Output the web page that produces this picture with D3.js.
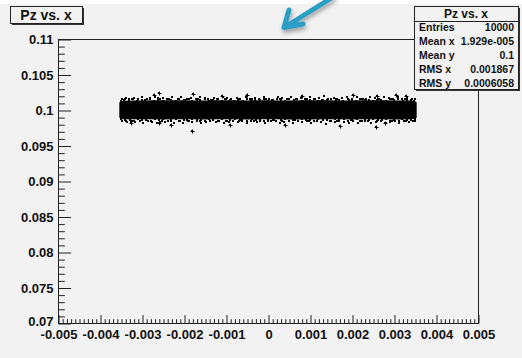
<!DOCTYPE html>
<html>
<head>
<meta charset="utf-8">
<script src="https://cdn.jsdelivr.net/npm/d3@7"></script>
<style>
  html, body { margin: 0; padding: 0; background: #ffffff; }
  svg { display: block; }
  text { font-family: "Liberation Sans", Arial, Helvetica, sans-serif; font-weight: bold; fill: #111; }
</style>
</head>
<body>
<svg id="chart" width="522" height="358"></svg>
<script>
// ---- axis ticks and labels ----
const xTickValues = [-0.005, -0.004, -0.003, -0.002, -0.001, 0, 0.001, 0.002, 0.003, 0.004, 0.005];
const xTickLabels = ["-0.005", "-0.004", "-0.003", "-0.002", "-0.001", "0", "0.001", "0.002", "0.003", "0.004", "0.005"];
const yTickValues = [0.07, 0.075, 0.08, 0.085, 0.09, 0.095, 0.1, 0.105, 0.11];
const yTickLabels = ["0.07", "0.075", "0.08", "0.085", "0.09", "0.095", "0.1", "0.105", "0.11"];

// ---- statistics box ----
const statTitle = "Pz vs. x";
const statNames = ["Entries", "Mean x", "Mean y", "RMS x", "RMS y"];
const statValues = ["10000", "1.929e-005", "0.1", "0.001867", "0.0006058"];

// ---- dense core of the Pz vs. x scatter (upper / lower envelope) ----
const coreX      = [-0.00354, -0.00350, -0.00340, -0.00300, -0.00250, -0.00200, -0.00150, -0.00100, -0.00050, 0.00000, 0.00050, 0.00100, 0.00150, 0.00200, 0.00250, 0.00300, 0.00340, 0.00350, 0.00354];
const coreTop    = [0.10105, 0.10122, 0.10132, 0.10135, 0.10136, 0.10138, 0.10134, 0.10137, 0.10135, 0.10138, 0.10134, 0.10136, 0.10138, 0.10134, 0.10137, 0.10135, 0.10133, 0.10125, 0.10106];
const coreBottom = [0.09895, 0.09878, 0.09870, 0.09868, 0.09866, 0.09868, 0.09867, 0.09869, 0.09866, 0.09868, 0.09867, 0.09866, 0.09868, 0.09867, 0.09868, 0.09866, 0.09870, 0.09876, 0.09894];

// ---- points just above the core ----
const upperInner = [
  [-0.00350, 0.10131], [-0.00341, 0.10152], [-0.00330, 0.10138], [-0.00322, 0.10160], [-0.00311, 0.10129],
  [-0.00299, 0.10147], [-0.00292, 0.10135], [-0.00280, 0.10156], [-0.00271, 0.10128], [-0.00262, 0.10144],
  [-0.00250, 0.10133], [-0.00241, 0.10158], [-0.00230, 0.10139], [-0.00219, 0.10127], [-0.00211, 0.10151],
  [-0.00200, 0.10136], [-0.00189, 0.10161], [-0.00180, 0.10130], [-0.00170, 0.10146], [-0.00161, 0.10134],
  [-0.00149, 0.10155], [-0.00140, 0.10128], [-0.00131, 0.10142], [-0.00120, 0.10150], [-0.00109, 0.10132],
  [-0.00100, 0.10159], [-0.00091, 0.10137], [-0.00080, 0.10127], [-0.00069, 0.10148], [-0.00060, 0.10133],
  [-0.00049, 0.10157], [-0.00040, 0.10130], [-0.00030, 0.10145], [-0.00019, 0.10136], [-0.00010, 0.10153],
  [0.00001, 0.10129], [0.00010, 0.10141], [0.00021, 0.10158], [0.00030, 0.10134], [0.00041, 0.10127],
  [0.00050, 0.10149], [0.00061, 0.10138], [0.00070, 0.10160], [0.00081, 0.10131], [0.00090, 0.10144],
  [0.00101, 0.10135], [0.00110, 0.10154], [0.00119, 0.10128], [0.00130, 0.10147], [0.00141, 0.10137],
  [0.00150, 0.10159], [0.00161, 0.10132], [0.00170, 0.10143], [0.00179, 0.10129], [0.00190, 0.10152],
  [0.00201, 0.10139], [0.00210, 0.10127], [0.00221, 0.10156], [0.00230, 0.10134], [0.00241, 0.10146],
  [0.00250, 0.10131], [0.00261, 0.10159], [0.00270, 0.10137], [0.00281, 0.10128], [0.00290, 0.10150],
  [0.00301, 0.10135], [0.00310, 0.10157], [0.00321, 0.10130], [0.00330, 0.10144], [0.00340, 0.10136],
  [0.00348, 0.10127]
];

// ---- points along the upper fringe of the band ----
const upperOuter = [
  [-0.00348, 0.10152], [-0.00339, 0.10168], [-0.00331, 0.10149], [-0.00320, 0.10175], [-0.00309, 0.10158],
  [-0.00301, 0.10183], [-0.00289, 0.10151], [-0.00280, 0.10166], [-0.00268, 0.10190], [-0.00257, 0.10155],
  [-0.00249, 0.10172], [-0.00236, 0.10148], [-0.00228, 0.10179], [-0.00215, 0.10160], [-0.00206, 0.10187],
  [-0.00193, 0.10153], [-0.00184, 0.10170], [-0.00172, 0.10149], [-0.00163, 0.10181], [-0.00151, 0.10162],
  [-0.00142, 0.10150], [-0.00129, 0.10176], [-0.00121, 0.10158], [-0.00108, 0.10185], [-0.00097, 0.10167],
  [-0.00088, 0.10151], [-0.00075, 0.10173], [-0.00066, 0.10157], [-0.00053, 0.10188], [-0.00044, 0.10149],
  [-0.00031, 0.10169], [-0.00022, 0.10154], [-0.00010, 0.10180], [0.00002, 0.10160], [0.00011, 0.10147],
  [0.00024, 0.10177], [0.00033, 0.10163], [0.00046, 0.10152], [0.00055, 0.10186], [0.00067, 0.10159],
  [0.00078, 0.10171], [0.00089, 0.10148], [0.00099, 0.10183], [0.00112, 0.10156], [0.00121, 0.10166],
  [0.00134, 0.10191], [0.00143, 0.10150], [0.00156, 0.10174], [0.00165, 0.10158], [0.00177, 0.10169],
  [0.00188, 0.10185], [0.00199, 0.10153], [0.00211, 0.10178], [0.00220, 0.10161], [0.00233, 0.10149],
  [0.00242, 0.10182], [0.00254, 0.10166], [0.00265, 0.10155], [0.00276, 0.10188], [0.00287, 0.10171],
  [0.00298, 0.10152], [0.00309, 0.10179], [0.00320, 0.10160], [0.00331, 0.10174], [0.00342, 0.10157],
  [0.00349, 0.10148],
  [-0.00343, 0.10146], [-0.00325, 0.10161], [-0.00294, 0.10147], [-0.00262, 0.10163], [-0.00241, 0.10158],
  [-0.00198, 0.10146], [-0.00167, 0.10160], [-0.00135, 0.10147], [-0.00102, 0.10156], [-0.00071, 0.10146],
  [-0.00037, 0.10159], [-0.00004, 0.10148], [0.00029, 0.10155], [0.00061, 0.10146], [0.00094, 0.10158],
  [0.00128, 0.10147], [0.00161, 0.10157], [0.00193, 0.10146], [0.00226, 0.10155], [0.00259, 0.10147],
  [0.00292, 0.10160], [0.00325, 0.10148]
];

// ---- points just below the core ----
const lowerInner = [
  [-0.00349, 0.09869], [-0.00339, 0.09846], [-0.00329, 0.09862], [-0.00320, 0.09840], [-0.00309, 0.09871],
  [-0.00300, 0.09853], [-0.00290, 0.09865], [-0.00279, 0.09844], [-0.00270, 0.09872], [-0.00260, 0.09856],
  [-0.00251, 0.09867], [-0.00239, 0.09842], [-0.00230, 0.09861], [-0.00220, 0.09873], [-0.00209, 0.09849],
  [-0.00200, 0.09864], [-0.00190, 0.09839], [-0.00181, 0.09870], [-0.00169, 0.09854], [-0.00160, 0.09866],
  [-0.00150, 0.09845], [-0.00141, 0.09872], [-0.00130, 0.09858], [-0.00119, 0.09850], [-0.00110, 0.09868],
  [-0.00101, 0.09841], [-0.00090, 0.09863], [-0.00079, 0.09873], [-0.00070, 0.09852], [-0.00061, 0.09867],
  [-0.00050, 0.09843], [-0.00039, 0.09870], [-0.00029, 0.09855], [-0.00020, 0.09864], [-0.00009, 0.09847],
  [0.00000, 0.09871], [0.00011, 0.09859], [0.00020, 0.09842], [0.00031, 0.09866], [0.00040, 0.09873],
  [0.00051, 0.09851], [0.00060, 0.09862], [0.00071, 0.09840], [0.00080, 0.09869], [0.00091, 0.09856],
  [0.00100, 0.09865], [0.00109, 0.09846], [0.00120, 0.09872], [0.00131, 0.09853], [0.00140, 0.09863],
  [0.00151, 0.09841], [0.00160, 0.09868], [0.00169, 0.09857], [0.00180, 0.09871], [0.00191, 0.09848],
  [0.00200, 0.09861], [0.00211, 0.09873], [0.00220, 0.09844], [0.00231, 0.09866], [0.00240, 0.09854],
  [0.00251, 0.09869], [0.00260, 0.09841], [0.00271, 0.09863], [0.00280, 0.09872], [0.00291, 0.09850],
  [0.00300, 0.09865], [0.00311, 0.09843], [0.00320, 0.09870], [0.00331, 0.09856], [0.00341, 0.09864],
  [0.00349, 0.09873]
];

// ---- points along the lower fringe of the band ----
const lowerOuter = [
  [-0.00347, 0.09849], [-0.00336, 0.09832], [-0.00327, 0.09851], [-0.00316, 0.09825], [-0.00305, 0.09842],
  [-0.00297, 0.09817], [-0.00285, 0.09848], [-0.00276, 0.09834], [-0.00264, 0.09812], [-0.00253, 0.09845],
  [-0.00245, 0.09828], [-0.00232, 0.09852], [-0.00224, 0.09821], [-0.00211, 0.09840], [-0.00202, 0.09814],
  [-0.00189, 0.09847], [-0.00180, 0.09830], [-0.00168, 0.09851], [-0.00159, 0.09819], [-0.00147, 0.09838],
  [-0.00138, 0.09850], [-0.00125, 0.09824], [-0.00117, 0.09842], [-0.00104, 0.09815], [-0.00093, 0.09833],
  [-0.00084, 0.09849], [-0.00071, 0.09827], [-0.00062, 0.09843], [-0.00049, 0.09812], [-0.00040, 0.09851],
  [-0.00027, 0.09831], [-0.00018, 0.09846], [-0.00006, 0.09820], [0.00006, 0.09840], [0.00015, 0.09853],
  [0.00028, 0.09823], [0.00037, 0.09837], [0.00050, 0.09848], [0.00059, 0.09814], [0.00071, 0.09841],
  [0.00082, 0.09829], [0.00093, 0.09852], [0.00103, 0.09817], [0.00116, 0.09844], [0.00125, 0.09834],
  [0.00138, 0.09809], [0.00147, 0.09850], [0.00160, 0.09826], [0.00169, 0.09842], [0.00181, 0.09831],
  [0.00192, 0.09815], [0.00203, 0.09847], [0.00215, 0.09822], [0.00224, 0.09839], [0.00237, 0.09851],
  [0.00246, 0.09818], [0.00258, 0.09834], [0.00269, 0.09845], [0.00280, 0.09812], [0.00291, 0.09829],
  [0.00302, 0.09848], [0.00313, 0.09821], [0.00324, 0.09840], [0.00335, 0.09826], [0.00345, 0.09843],
  [0.00350, 0.09852],
  [-0.00341, 0.09854], [-0.00321, 0.09839], [-0.00290, 0.09853], [-0.00258, 0.09837], [-0.00237, 0.09842],
  [-0.00194, 0.09854], [-0.00163, 0.09840], [-0.00131, 0.09853], [-0.00098, 0.09844], [-0.00067, 0.09854],
  [-0.00033, 0.09841], [0.00000, 0.09852], [0.00033, 0.09845], [0.00065, 0.09854], [0.00098, 0.09842],
  [0.00132, 0.09853], [0.00165, 0.09843], [0.00197, 0.09854], [0.00230, 0.09845], [0.00263, 0.09853],
  [0.00296, 0.09840], [0.00329, 0.09852]
];

// ---- isolated points farther from the band ----
const strayPoints = [
  [-0.00260, 0.10239], [-0.00271, 0.10211], [-0.00179, 0.10225], [-0.00110, 0.10197], [0.00202, 0.10211],
  [0.00260, 0.10197], [0.00305, 0.10211], [0.00329, 0.10197], [-0.00050, 0.10205], [0.00080, 0.10203],
  [-0.00326, 0.09817], [-0.00260, 0.09817], [-0.00181, 0.09704], [0.00257, 0.09761], [0.00171, 0.09775],
  [0.00279, 0.09817], [-0.00090, 0.09790], [0.00040, 0.09795], [-0.00230, 0.09788]
];

// ---- layout ----
const svg = d3.select("#chart");
const W = 522, H = 358;
const frame = { left: 58, right: 478, top: 39, bottom: 323 };

const x = d3.scaleLinear().domain([-0.005, 0.005]).range([frame.left, frame.right]);
const y = d3.scaleLinear().domain([0.07, 0.11]).range([frame.bottom, frame.top]);

const defs = svg.append("defs");
const shadow = defs.append("filter").attr("id", "soft").attr("x", "-50%").attr("y", "-50%").attr("width", "200%").attr("height", "200%");
shadow.append("feDropShadow").attr("dx", 1).attr("dy", 3).attr("stdDeviation", 2).attr("flood-color", "#000").attr("flood-opacity", 0.35);

// canvas background
svg.append("rect").attr("x", 0).attr("y", 0).attr("width", W).attr("height", H).attr("fill", "#ffffff");
svg.append("rect").attr("x", 0).attr("y", 4).attr("width", W).attr("height", H - 4).attr("fill", "#f2f2f2");

// ---- scatter ----
const plot = svg.append("g");

const coreData = coreX.map((v, i) => ({ x: v, t: coreTop[i], b: coreBottom[i] }));
plot.append("path")
  .datum(coreData)
  .attr("fill", "#000")
  .attr("d", d3.area().x(d => x(d.x)).y0(d => y(d.b)).y1(d => y(d.t)).curve(d3.curveMonotoneX));

const dots = upperInner.concat(upperOuter, lowerInner, lowerOuter, strayPoints);
plot.selectAll("rect.pt")
  .data(dots)
  .join("rect")
  .attr("class", "pt")
  .attr("x", d => Math.round(x(d[0])) - 1)
  .attr("y", d => Math.round(y(d[1])) - 1)
  .attr("width", 2)
  .attr("height", 2)
  .attr("fill", "#000");

// small crosses on the stray points
plot.selectAll("path.cross")
  .data(strayPoints)
  .join("path")
  .attr("class", "cross")
  .attr("d", d => {
    const cx = Math.round(x(d[0])) + 0.5, cy = Math.round(y(d[1])) + 0.5;
    return `M${cx - 2},${cy}H${cx + 2}M${cx},${cy - 2}V${cy + 2}`;
  })
  .attr("stroke", "#000")
  .attr("stroke-width", 1);

// ---- frame ----
svg.append("rect")
  .attr("x", frame.left + 0.5).attr("y", frame.top + 0.5)
  .attr("width", frame.right - frame.left).attr("height", frame.bottom - frame.top)
  .attr("fill", "none").attr("stroke", "#222").attr("stroke-width", 1);

// ---- axes (ticks point into the frame) ----
const xMinor = d3.range(-50, 51).map(k => k / 10000).filter(v => Math.abs(Math.round(v * 1000) - v * 1000) > 1e-6);
const yMinor = d3.range(70, 111).map(k => k / 1000).filter(v => Math.abs(Math.round(v * 200) - v * 200) > 1e-6);

const xAxis = d3.axisBottom(x).tickValues(xTickValues).tickFormat((d, i) => xTickLabels[i]).tickSizeInner(-8.5).tickSizeOuter(0).tickPadding(4);
const xAxisMinor = d3.axisBottom(x).tickValues(xMinor).tickFormat("").tickSizeInner(-4.3).tickSizeOuter(0);
const yAxis = d3.axisLeft(y).tickValues(yTickValues).tickFormat((d, i) => yTickLabels[i]).tickSizeInner(-12.6).tickSizeOuter(0).tickPadding(5);
const yAxisMinor = d3.axisLeft(y).tickValues(yMinor).tickFormat("").tickSizeInner(-6.3).tickSizeOuter(0);

function styleAxis(g) {
  g.select(".domain").remove();
  g.selectAll(".tick line").attr("stroke", "#222").attr("stroke-width", 1);
  g.selectAll(".tick text").attr("fill", "#111").attr("font-size", 13)
    .attr("font-family", "'Liberation Sans', Arial, sans-serif").attr("font-weight", "bold");
}

svg.append("g").attr("transform", `translate(0.5,${frame.bottom + 0.5})`).call(xAxisMinor).call(styleAxis);
svg.append("g").attr("transform", `translate(0.5,${frame.bottom + 0.5})`).call(xAxis).call(styleAxis)
  .selectAll(".tick text").attr("dy", "0.85em");
svg.append("g").attr("transform", `translate(${frame.left + 0.5},0.5)`).call(yAxisMinor).call(styleAxis);
const yAxisG = svg.append("g").attr("transform", `translate(${frame.left + 0.5},0.5)`).call(yAxis).call(styleAxis);
// the lowest label sits a touch higher so it clears the x labels
yAxisG.selectAll(".tick text").filter((d, i) => i === 0).attr("dy", "0.12em");

// ---- title box ----
const tb = { x: 10, y: 6, w: 72, h: 17 };
svg.append("rect").attr("x", tb.x + 2).attr("y", tb.y + 2).attr("width", tb.w).attr("height", tb.h).attr("fill", "#333");
svg.append("rect").attr("x", tb.x + 0.5).attr("y", tb.y + 0.5).attr("width", tb.w).attr("height", tb.h)
  .attr("fill", "#f2f2f2").attr("stroke", "#222");
svg.append("text").attr("x", tb.x + tb.w / 2).attr("y", tb.y + 13.5).attr("text-anchor", "middle")
  .attr("font-size", 14).text(statTitle);

// ---- statistics box ----
const sb = { x: 414, y: 6, w: 104, h: 83 };
svg.append("rect").attr("x", sb.x + 2).attr("y", sb.y + 2).attr("width", sb.w).attr("height", sb.h).attr("fill", "#333");
svg.append("rect").attr("x", sb.x + 0.5).attr("y", sb.y + 0.5).attr("width", sb.w).attr("height", sb.h)
  .attr("fill", "#f2f2f2").attr("stroke", "#222");
svg.append("line").attr("x1", sb.x).attr("x2", sb.x + sb.w).attr("y1", sb.y + 15.5).attr("y2", sb.y + 15.5).attr("stroke", "#222");
svg.append("text").attr("x", sb.x + sb.w / 2).attr("y", sb.y + 11.5).attr("text-anchor", "middle")
  .attr("font-size", 12).text(statTitle);
statNames.forEach((name, i) => {
  const by = sb.y + 25 + i * 14;
  svg.append("text").attr("x", sb.x + 5).attr("y", by).attr("font-size", 10.5).text(name);
  svg.append("text").attr("x", sb.x + sb.w - 4).attr("y", by).attr("text-anchor", "end").attr("font-size", 10.5).text(statValues[i]);
});

// ---- pointer arrow ----
svg.append("path")
  .attr("d", "M333,-3 L285,27 M289,10 L284,27.5 L303,24")
  .attr("fill", "none")
  .attr("stroke", "#2c9fc6")
  .attr("stroke-width", 5)
  .attr("stroke-linecap", "round")
  .attr("stroke-linejoin", "round")
  .attr("filter", "url(#soft)");
</script>
</body>
</html>
